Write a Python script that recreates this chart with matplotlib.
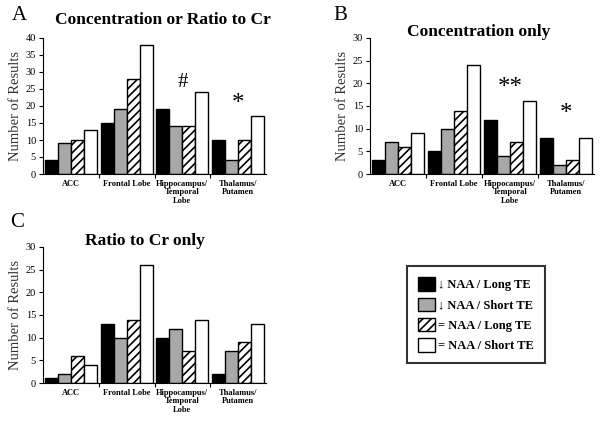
import matplotlib
matplotlib.use("Agg")
import matplotlib.pyplot as plt
from matplotlib.patches import Patch
import numpy as np

plt.rcParams['font.family'] = ['Liberation Serif', 'DejaVu Serif']
plt.rcParams['hatch.linewidth'] = 1.2

regions = ["ACC", "Frontal Lobe", "Hippocampus/\nTemporal\nLobe", "Thalamus/\nPutamen"]
series = ["\u2193 NAA / Long TE", "\u2193 NAA / Short TE", "= NAA / Long TE", "= NAA / Short TE"]

# rows: regions, cols: series
conc_or_ratio = [[4, 9, 10, 13], [15, 19, 28, 38], [19, 14, 14, 24], [10, 4, 10, 17]]
conc_only = [[3, 7, 6, 9], [5, 10, 14, 24], [12, 4, 7, 16], [8, 2, 3, 8]]
ratio_only = [[1, 2, 6, 4], [13, 10, 14, 26], [10, 12, 7, 14], [2, 7, 9, 13]]

faces = ['black', '#a8a8a8', 'white', 'white']
hatches = [None, None, '////', None]


def draw_panel(ax, data, ymax, step):
    data = np.array(data)
    w = 0.233
    x = np.arange(len(regions)) + 0.5
    for j in range(4):
        ax.bar(x + (j - 1.5) * w, data[:, j], width=w, color=faces[j],
               edgecolor='black', linewidth=1.0, hatch=hatches[j])
    ax.set_xlim(0, 4)
    ax.set_ylim(0, ymax)
    ax.set_yticks(np.arange(0, ymax + 1, step))
    ax.set_xticks(x)
    ax.set_xticklabels(regions, fontsize=6, fontweight='bold', linespacing=1.1)
    ax.set_xticks([1, 2, 3], minor=True)
    ax.tick_params(axis='x', which='major', length=0, pad=4)
    ax.tick_params(axis='x', which='minor', length=3, width=0.8)
    ax.tick_params(axis='y', labelsize=7.5, length=3, width=0.8, pad=2)
    ax.spines['top'].set_visible(False)
    ax.spines['right'].set_visible(False)
    ax.set_ylabel('Number of Results', fontsize=10.5, color='#333333', labelpad=3)


fig = plt.figure(figsize=(6.04, 4.23), dpi=100)
W, H = 604, 423


def axes_px(left, right, top, bottom):
    return fig.add_axes([left / W, 1 - bottom / H, (right - left) / W, (bottom - top) / H])


axA = axes_px(43, 266, 38, 174)
draw_panel(axA, conc_or_ratio, 40, 5)
axA.text(2.5, 27, '#', ha='center', va='center', fontsize=15)
axA.text(3.5, 20.5, '*', ha='center', va='center', fontsize=18)

axB = axes_px(370, 594, 38, 174)
draw_panel(axB, conc_only, 30, 5)
axB.text(2.5, 19, '**', ha='center', va='center', fontsize=18)
axB.text(3.5, 13.2, '*', ha='center', va='center', fontsize=18)

axC = axes_px(43, 266, 247, 383)
draw_panel(axC, ratio_only, 30, 5)

fig.text(12 / W, 1 - 15 / H, 'A', fontsize=15, va='center')
fig.text(333 / W, 1 - 15 / H, 'B', fontsize=15, va='center')
fig.text(10 / W, 1 - 222 / H, 'C', fontsize=15, va='center')

fig.text(163 / W, 1 - 20 / H, 'Concentration or Ratio to Cr', fontsize=12.5,
         fontweight='bold', ha='center', va='center')
fig.text(479 / W, 1 - 32 / H, 'Concentration only', fontsize=12.5,
         fontweight='bold', ha='center', va='center')
fig.text(145 / W, 1 - 241 / H, 'Ratio to Cr only', fontsize=12.5,
         fontweight='bold', ha='center', va='center')

handles = [Patch(facecolor=faces[j], edgecolor='black', hatch=hatches[j], linewidth=1.0)
           for j in range(4)]
leg = fig.legend(handles, series, loc='upper left', borderaxespad=0,
                 bbox_to_anchor=(407 / W, 1 - 266 / H), frameon=True, fancybox=False,
                 prop={'size': 9, 'weight': 'bold'}, handlelength=1.3, handleheight=1.3,
                 handletextpad=0.3, labelspacing=0.5, borderpad=0.9, edgecolor='black')
leg.get_frame().set_linewidth(1.5)

fig.savefig('out.png', dpi=100)
